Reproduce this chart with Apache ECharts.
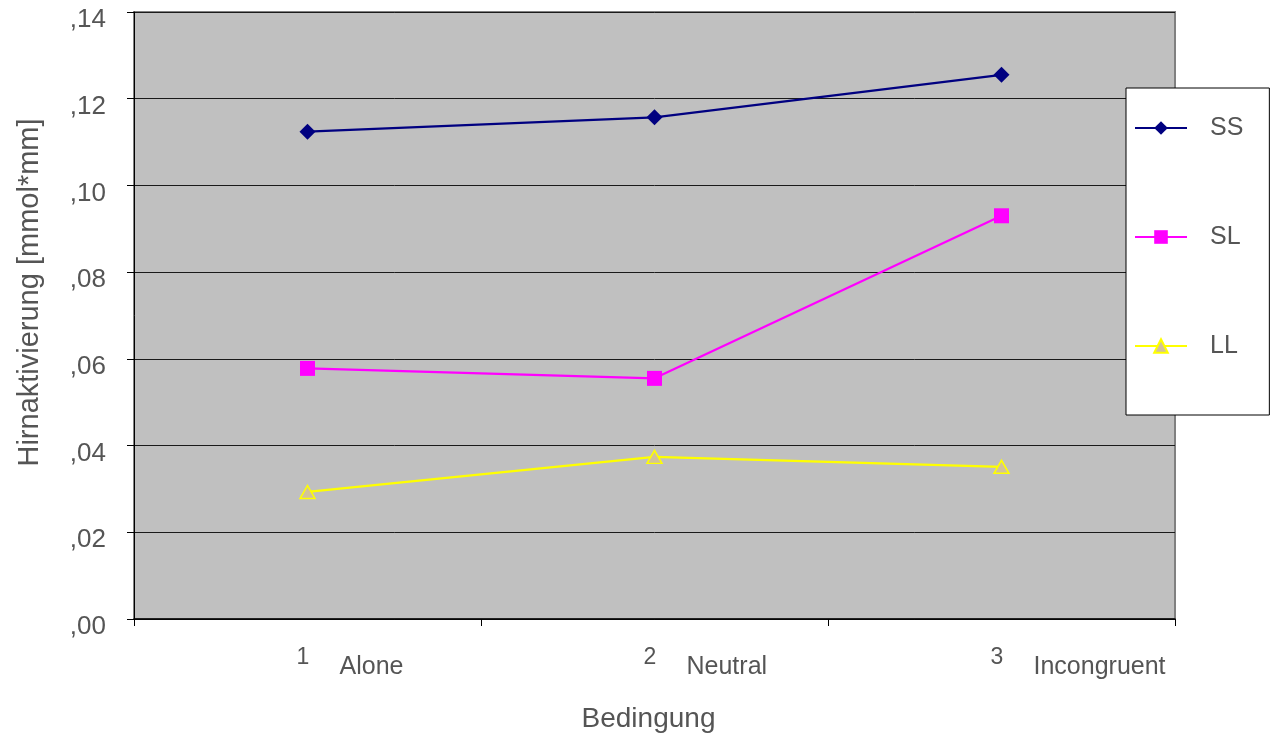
<!DOCTYPE html>
<html>
<head>
<meta charset="utf-8">
<script src="https://cdn.jsdelivr.net/npm/echarts@6/dist/echarts.min.js"></script>
<style>
  html, body { margin: 0; padding: 0; background: #ffffff; }
  #chart { width: 1277px; height: 734px; }
</style>
</head>
<body>
<div id="chart"></div>
<script>
// Conditions on the x axis
var conditionNumbers = ['1', '2', '3'];
var conditionNames = ['Alone', 'Neutral', 'Incongruent'];

// Mean brain activation per group and condition
var ssValues = [0.1124, 0.1157, 0.1255];
var slValues = [0.0578, 0.0555, 0.0930];
var llValues = [0.0293, 0.0374, 0.0351];

// Y axis tick labels (0.00 .. 0.14 in steps of 0.02)
var yTickLabels = [',00', ',02', ',04', ',06', ',08', ',10', ',12', ',14'];

var FONT = "'Liberation Sans', Arial, sans-serif";
var TEXT = '#555555';

var chart = echarts.init(document.getElementById('chart'), null, { renderer: 'canvas' });

chart.setOption({
  animation: false,
  backgroundColor: '#ffffff',
  textStyle: { fontFamily: FONT, color: TEXT },
  grid: {
    left: 134, right: 102, top: 12, bottom: 115,
    show: true,
    backgroundColor: '#c0c0c0',
    borderColor: '#808080',
    borderWidth: 2,
    containLabel: false,
    outerBoundsMode: 'none'
  },
  legend: {
    orient: 'vertical',
    left: 1126,
    top: 88,
    backgroundColor: '#ffffff',
    borderColor: '#000000',
    borderWidth: 1,
    padding: [25, 26, 54, 8],
    itemGap: 79,
    itemWidth: 52,
    itemHeight: 17,
    selectedMode: false,
    textStyle: { fontFamily: FONT, fontSize: 25, color: TEXT, lineHeight: 30, padding: [0, 0, 0, 18] },
    data: ['SS', 'SL', 'LL']
  },
  xAxis: [
    {
      type: 'category',
      data: conditionNumbers,
      boundaryGap: true,
      name: 'Bedingung',
      nameLocation: 'middle',
      nameGap: 86,
      nameTextStyle: { fontFamily: FONT, fontSize: 28, color: TEXT, padding: [0, 12, 0, 0] },
      axisLine: { show: true, lineStyle: { color: '#000000', width: 1.5 } },
      axisTick: { show: true, inside: false, length: 7, alignWithLabel: false, lineStyle: { color: '#000000', width: 1 } },
      axisLabel: { fontFamily: FONT, fontSize: 23, color: TEXT, margin: 27, align: 'center', padding: [0, 9, 0, 0] },
      splitLine: { show: false }
    },
    {
      type: 'category',
      data: conditionNames,
      boundaryGap: true,
      position: 'bottom',
      axisLine: { show: false },
      axisTick: { show: false },
      axisLabel: { fontFamily: FONT, fontSize: 25, color: TEXT, margin: 36, align: 'left', padding: [0, 0, 0, 32] },
      splitLine: { show: false }
    }
  ],
  yAxis: {
    type: 'value',
    min: 0,
    max: 0.14,
    interval: 0.02,
    name: 'Hirnaktivierung [mmol*mm]',
    nameLocation: 'middle',
    nameGap: 90,
    nameRotate: 90,
    nameTextStyle: { fontFamily: FONT, fontSize: 29, color: TEXT, padding: [0, 0, 0, 46] },
    axisLine: { show: true, lineStyle: { color: '#000000', width: 1 } },
    axisTick: { show: true, inside: false, length: 7, lineStyle: { color: '#000000', width: 1 } },
    axisLabel: {
      fontFamily: FONT, fontSize: 26, color: TEXT, margin: 28,
      verticalAlign: 'top', lineHeight: 16,
      formatter: function (v) { return yTickLabels[Math.round(v / 0.02)]; }
    },
    splitLine: { show: true, lineStyle: { color: '#1a1a1a', width: 1 } }
  },
  series: [
    {
      name: 'SS', type: 'line', data: ssValues, xAxisIndex: 0,
      symbol: 'diamond', symbolSize: 16,
      lineStyle: { color: '#000080', width: 2.2 },
      itemStyle: { color: '#000080', borderColor: '#000080', borderWidth: 0 }
    },
    {
      name: 'SL', type: 'line', data: slValues, xAxisIndex: 0,
      symbol: 'rect', symbolSize: 15,
      lineStyle: { color: '#ff00ff', width: 2.2 },
      itemStyle: { color: '#ff00ff', borderColor: '#ff00ff', borderWidth: 0 }
    },
    {
      name: 'LL', type: 'line', data: llValues, xAxisIndex: 0,
      symbol: 'triangle', symbolSize: [15, 13],
      lineStyle: { color: '#ffff00', width: 2.2 },
      itemStyle: { color: '#d2c29a', borderColor: '#ffff00', borderWidth: 1.5 }
    }
  ]
});
</script>
</body>
</html>
